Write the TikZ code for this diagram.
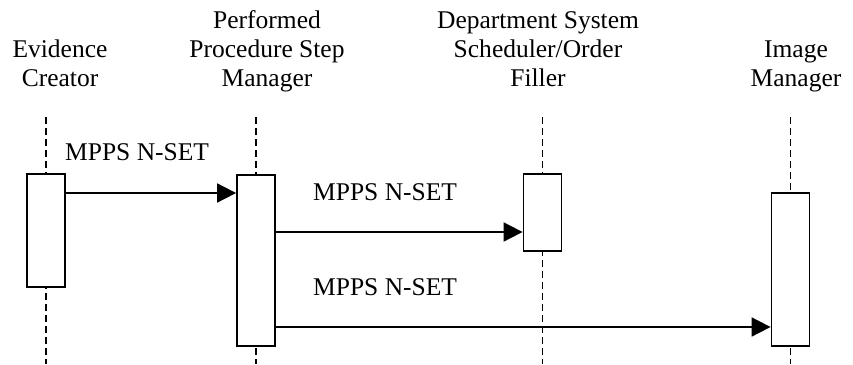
\documentclass[tikz,border=0pt]{standalone}
\usepackage{fontspec}
\setmainfont{Liberation Serif}
\usetikzlibrary{arrows.meta}
\begin{document}
\begin{tikzpicture}[x=1pt,y=-1pt,
  hdr/.style={align=center,inner sep=0pt,anchor=base,font=\fontsize{25.5}{29}\selectfont},
  lbl/.style={inner sep=0pt,anchor=base west,font=\fontsize{25.5}{29}\selectfont},
  life/.style={line width=1.5pt,dash pattern=on 7pt off 4pt},
  actbox/.style={draw,line width=1.8pt,fill=white,rectangle,minimum width=38pt,inner sep=0pt},
  msg/.style={line width=1.8pt,-{Triangle[length=19pt,width=19pt]}}]
\useasboundingbox (0,0) rectangle (853,364);
% headers
\node[hdr] (hec) at (60,86) {Evidence\\Creator};
\node[hdr] (hpp) at (267,86) {Performed\\Procedure Step\\Manager};
\node[hdr] (hds) at (538,86) {Department System\\Scheduler/Order\\Filler};
\node[hdr] (him) at (796,86) {Image\\Manager};
% lifelines
\coordinate (ect) at (46,117); \coordinate (ecb) at (46,364);
\coordinate (ppt) at (256,117); \coordinate (ppb) at (256,364);
\coordinate (dst) at (542.5,117); \coordinate (dsb) at (542.5,364);
\coordinate (imt) at (790.5,117); \coordinate (imb) at (790.5,364);
\draw[life] (ect) -- (ecb);
\draw[life] (ppt) -- (ppb);
\draw[life] (dst) -- (dsb);
\draw[life] (imt) -- (imb);
% activation boxes
\node[actbox,minimum height=113pt] (ecbox) at (46,230.5) {};
\node[actbox,minimum height=171pt] (ppbox) at (256,260.5) {};
\node[actbox,minimum height=77pt] (dsbox) at (542.5,212.5) {};
\node[actbox,minimum height=153pt] (imbox) at (790.5,269.5) {};
% messages
\draw[msg] (ecbox.east |- 0,193) -- (ppbox.west |- 0,193);
\draw[msg] (ppbox.east |- 0,232) -- (dsbox.west |- 0,232);
\draw[msg] (ppbox.east |- 0,327) -- (imbox.west |- 0,327);
\node[lbl] (l1) at (65,160) {MPPS N-SET};
\node[lbl] (l2) at (313,200) {MPPS N-SET};
\node[lbl] (l3) at (313,295) {MPPS N-SET};
\end{tikzpicture}
\end{document}
